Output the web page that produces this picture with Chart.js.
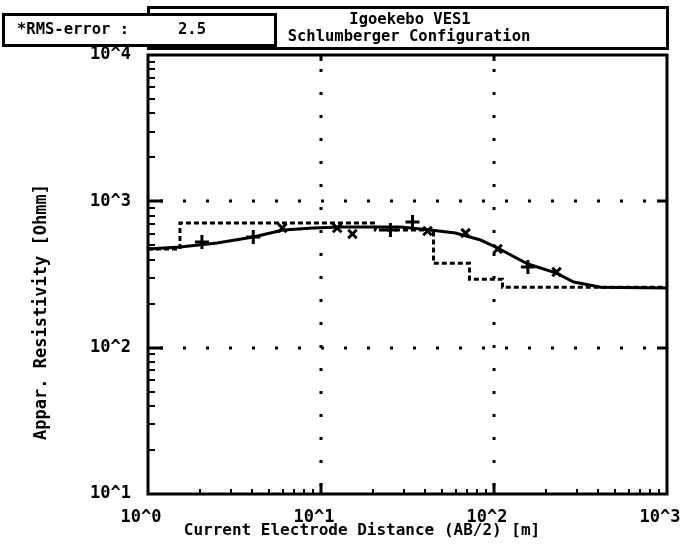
<!DOCTYPE html>
<html>
<head>
<meta charset="utf-8">
<script src="https://cdn.jsdelivr.net/npm/chart.js@4.4.1/dist/chart.umd.min.js"></script>
<style>
  html, body { margin: 0; padding: 0; background: #fff; }
  #wrap { width: 681px; height: 548px; }
</style>
</head>
<body>
<div id="wrap"><canvas id="chart"></canvas></div>
<script>
// measured sounding data (AB/2 in m, apparent resistivity in Ohmm)
const plusX = [2.05, 4.06, 25.2, 33.8, 157];
const plusRho = [527, 570, 637, 722, 356];
const crossX = [5.97, 12.4, 15.2, 41.3, 68.5, 105, 230];
const crossRho = [657, 657, 598, 627, 607, 472, 329];

// calculated model curve
const curveX = [1, 1.53, 2.51, 4.06, 6.05, 9.02, 12.9, 28.8, 42.9, 59.9, 83.6, 105, 157, 230, 289, 414, 1000];
const curveRho = [472, 487, 519, 570, 637, 657, 667, 667, 637, 607, 544, 480, 373, 323, 281, 259, 256];

// layered model (layer tops and resistivities)
const layerX = [1, 1.53, 20.6, 44.7, 72.2, 112, 1000];
const layerRho = [472, 711, 637, 378, 294, 259, 259];

const xTicks = [1, 10, 100, 1000];
const xTickLabels = ['10^0', '10^1', '10^2', '10^3'];
const yTicks = [10, 100, 1000, 10000];
const yTickLabels = ['10^1', '10^2', '10^3', '10^4'];

const titleLines = ['Igoekebo VES1', 'Schlumberger Configuration'];
const rmsLabel = '*RMS-error :';
const rmsValue = '2.5';
const xTitle = 'Current Electrode Distance (AB/2) [m]';
const yTitle = 'Appar. Resistivity [Ohmm]';

const mono = '"DejaVu Sans Mono", monospace';

const toXY = (xs, ys) => xs.map((v, i) => ({ x: v, y: ys[i] }));

const frame = {
  id: 'frame',
  beforeDatasetsDraw(chart) {
    const { ctx, chartArea: a, scales: { x, y } } = chart;
    ctx.save();
    ctx.strokeStyle = '#000';
    ctx.lineWidth = 3;
    ctx.setLineDash([3, 20]);
    xTicks.slice(1, -1).forEach(v => {
      const px = Math.round(x.getPixelForValue(v));
      ctx.beginPath(); ctx.moveTo(px, a.bottom - 8); ctx.lineTo(px, a.top); ctx.stroke();
    });
    yTicks.slice(1, -1).forEach(v => {
      const py = Math.round(y.getPixelForValue(v));
      ctx.beginPath(); ctx.moveTo(a.left + 12, py); ctx.lineTo(a.right, py); ctx.stroke();
    });
    ctx.restore();
  },
  afterDraw(chart) {
    const { ctx, chartArea: a, scales: { x, y } } = chart;
    ctx.save();
    ctx.strokeStyle = '#000';
    ctx.fillStyle = '#000';
    ctx.lineWidth = 3;
    ctx.strokeRect(a.left, a.top, a.right - a.left, a.bottom - a.top);

    // inside ticks
    ctx.lineWidth = 2;
    const line = (x1, y1, x2, y2) => { ctx.beginPath(); ctx.moveTo(x1, y1); ctx.lineTo(x2, y2); ctx.stroke(); };
    [1, 10, 100].forEach(d => {
      for (let m = 2; m <= 9; m++) {
        const px = Math.round(x.getPixelForValue(m * d));
        line(px, a.bottom, px, a.bottom - 5);
      }
    });
    [10, 100, 1000].forEach(d => {
      for (let m = 2; m <= 9; m++) {
        const py = Math.round(y.getPixelForValue(m * d));
        line(a.left, py, a.left + 7, py);
      }
    });
    ctx.lineWidth = 3;
    xTicks.slice(1, -1).forEach(v => {
      const px = Math.round(x.getPixelForValue(v));
      line(px, a.bottom, px, a.bottom - 10);
      line(px, a.top, px, a.top + 6);
    });
    yTicks.slice(1, -1).forEach(v => {
      const py = Math.round(y.getPixelForValue(v));
      line(a.left, py, a.left + 15, py);
      line(a.right, py, a.right - 10, py);
    });

    // title box and rms box
    ctx.lineWidth = 3;
    ctx.fillStyle = '#fff';
    ctx.fillRect(148, 7, 520, 42);
    ctx.strokeRect(148.5, 7.5, 519, 41);
    ctx.fillRect(3, 14, 273, 32);
    ctx.strokeRect(3.5, 14.5, 272, 31);
    ctx.fillStyle = '#000';
    ctx.textBaseline = 'middle';
    ctx.textAlign = 'center';
    ctx.font = 'bold 15.5px ' + mono;
    ctx.fillText(titleLines[0], 410, 20);
    ctx.fillText(titleLines[1], 409, 37);
    ctx.textAlign = 'left';
    ctx.font = 'bold 15.5px ' + mono;
    ctx.fillText(rmsLabel, 17, 30);
    ctx.fillText(rmsValue, 178, 30);

    // axis titles
    ctx.textAlign = 'center';
    ctx.font = 'bold 16px ' + mono;
    ctx.fillText(xTitle, 362, 531);
    ctx.translate(42, 312);
    ctx.rotate(-Math.PI / 2);
    ctx.font = 'bold 17px ' + mono;
    ctx.fillText(yTitle, 0, 0);
    ctx.restore();
  }
};

const tickFont = { family: mono, size: 17, weight: 'bold' };

new Chart(document.getElementById('chart'), {
  type: 'line',
  data: {
    datasets: [
      {
        label: 'model curve',
        data: toXY(curveX, curveRho),
        borderColor: '#000',
        borderWidth: 3,
        pointRadius: 0,
        tension: 0
      },
      {
        label: 'layers',
        data: toXY(layerX, layerRho),
        borderColor: '#000',
        borderWidth: 3,
        borderDash: [5, 3],
        pointRadius: 0,
        stepped: 'before'
      },
      {
        label: 'data +',
        data: toXY(plusX, plusRho),
        showLine: false,
        pointStyle: 'cross',
        pointRadius: 7,
        borderColor: '#000',
        borderWidth: 3
      },
      {
        label: 'data x',
        data: toXY(crossX, crossRho),
        showLine: false,
        pointStyle: 'crossRot',
        pointRadius: 6,
        borderColor: '#000',
        borderWidth: 3
      }
    ]
  },
  options: {
    responsive: true,
    maintainAspectRatio: false,
    animation: false,
    layout: { padding: { left: 0, right: 14, top: 55, bottom: 0 } },
    plugins: { legend: { display: false }, tooltip: { enabled: false } },
    scales: {
      x: {
        type: 'logarithmic',
        min: 1,
        max: 1000,
        grid: { display: false, drawTicks: false },
        border: { display: false },
        afterBuildTicks: s => { s.ticks = xTicks.map(v => ({ value: v })); },
        afterFit: s => { s.height = 54; s.paddingLeft = 0; s.paddingRight = 0; },
        ticks: {
          color: '#000',
          font: tickFont,
          padding: 13,
          labelOffset: -7,
          maxRotation: 0,
          autoSkip: false,
          callback: (v, i) => xTickLabels[i]
        }
      },
      y: {
        type: 'logarithmic',
        min: 10,
        max: 10000,
        grid: { display: false, drawTicks: false },
        border: { display: false },
        afterBuildTicks: s => { s.ticks = yTicks.map(v => ({ value: v })); },
        afterFit: s => { s.width = 148; s.paddingTop = 0; s.paddingBottom = 0; },
        ticks: {
          color: '#000',
          font: tickFont,
          padding: 17,
          autoSkip: false,
          callback: (v, i) => yTickLabels[i]
        }
      }
    }
  },
  plugins: [frame]
});
</script>
</body>
</html>
